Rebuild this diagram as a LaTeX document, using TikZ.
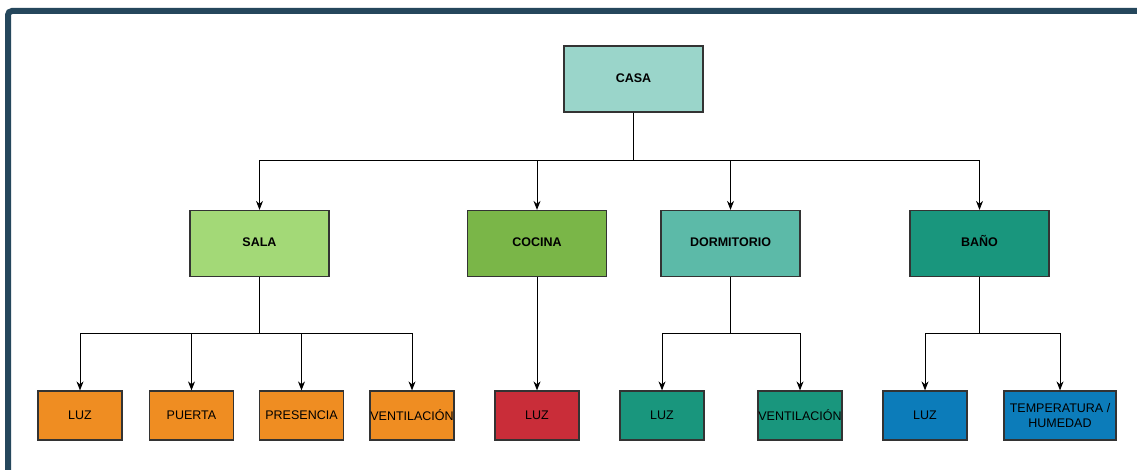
\documentclass[tikz,border=0pt]{standalone}
\usepackage{fontspec}
\setmainfont{Liberation Sans}
\usetikzlibrary{arrows.meta}
\definecolor{framec}{HTML}{25475C}
\definecolor{casac}{HTML}{9AD5CA}
\definecolor{salac}{HTML}{A3D977}
\definecolor{cocinac}{HTML}{7AB648}
\definecolor{dormc}{HTML}{5CBAA8}
\definecolor{banoc}{HTML}{19967D}
\definecolor{orangec}{HTML}{EF8D22}
\definecolor{redc}{HTML}{C92D39}
\definecolor{tealc}{HTML}{19967D}
\definecolor{bluec}{HTML}{0C7CBA}
\definecolor{edgec}{HTML}{333333}
\tikzset{
  box/.style={draw=edgec, line width=1.2pt, inner sep=0pt, align=center},
  topbox/.style={box, minimum width=139pt, minimum height=66pt,
    text height=9pt, text depth=2.5pt,
    font=\fontsize{12.5}{14}\selectfont\bfseries},
  leafbox/.style={box, minimum width=84pt, minimum height=49pt,
    font=\fontsize{12.5}{15}\selectfont},
  link/.style={line width=1pt, black, -{Stealth[length=9pt, width=7pt]}},
}
\begin{document}
\begin{tikzpicture}[x=1pt, y=-1pt]
\useasboundingbox (0,0) rectangle (1137,470);
\fill[white] (0,0) rectangle (1137,470);
% outer frame, running past the right and bottom edges
\begin{scope}
  \clip (0,0) rectangle (1137,470);
  \draw[framec, line width=6pt, rounded corners=4pt] (8,11) rectangle (1160,500);
\end{scope}

% root
\node[topbox, fill=casac] (casa) at (633.5,79) {CASA};

% rooms
\node[topbox, fill=salac]   (sala)   at (259.5,243.5) {SALA};
\node[topbox, fill=cocinac] (cocina) at (537,243.5) {COCINA};
\node[topbox, fill=dormc]   (dorm)   at (730.5,243.5) {DORMITORIO};
\node[topbox, fill=banoc]   (bano)   at (979.5,243.5) {BAÑO};

% devices
\node[leafbox, fill=orangec] (sluz)  at (80,415.5)  {LUZ};
\node[leafbox, fill=orangec] (spta)  at (191.5,415.5) {PUERTA};
\node[leafbox, fill=orangec] (spres) at (301.5,415.5) {PRESENCIA};
\node[leafbox, fill=orangec] (svent) at (412,415.5) {VENTILACIÓN};
\node[leafbox, fill=redc]    (cluz)  at (537,415.5) {LUZ};
\node[leafbox, fill=tealc]   (dluz)  at (662,415.5) {LUZ};
\node[leafbox, fill=tealc]   (dvent) at (800,415.5) {VENTILACIÓN};
\node[leafbox, fill=bluec]   (bluz)  at (925,415.5) {LUZ};
\node[leafbox, fill=bluec, minimum width=112pt] (btemp) at (1060,415.5) {TEMPERATURA /\\HUMEDAD};

% root to rooms
\foreach \c in {sala,cocina,dorm,bano}
  \draw[link] (casa.south) -- ++(0,48) -| (\c.north);

% rooms to devices
\foreach \c in {sluz,spta,spres,svent}
  \draw[link] (sala.south) -- ++(0,56) -| (\c.north);
\draw[link] (cocina.south) -- (cluz.north);
\foreach \c in {dluz,dvent}
  \draw[link] (dorm.south) -- ++(0,56) -| (\c.north);
\foreach \c in {bluz,btemp}
  \draw[link] (bano.south) -- ++(0,56) -| (\c.north);
\end{tikzpicture}
\end{document}
